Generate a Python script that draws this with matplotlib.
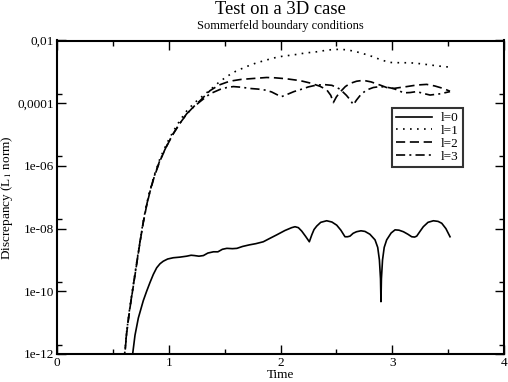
import numpy as np
import matplotlib
matplotlib.use("Agg")
import matplotlib.pyplot as plt
from matplotlib.ticker import FixedLocator, FixedFormatter

plt.rcParams['font.family'] = ['Liberation Serif', 'DejaVu Serif']
plt.rcParams['mathtext.fontset'] = 'stix'

# l=0 (solid): time and log10(discrepancy)
t0 = [0.65, 0.677, 0.698, 0.728, 0.772, 0.802, 0.832, 0.862, 0.892, 0.922, 0.951, 0.99, 1.04, 1.10,
      1.16, 1.20, 1.23, 1.27, 1.31, 1.35, 1.40, 1.44, 1.48, 1.52, 1.57, 1.61, 1.66, 1.72, 1.78, 1.846,
      1.90, 1.966, 2.04, 2.10, 2.13, 2.16, 2.19, 2.225, 2.258, 2.28, 2.30, 2.324, 2.36, 2.413, 2.46,
      2.503, 2.54, 2.577, 2.60, 2.622, 2.65, 2.68, 2.72, 2.756, 2.80, 2.846, 2.87, 2.885, 2.895, 2.899,
      2.903, 2.913, 2.928, 2.95, 2.99, 3.025, 3.06, 3.1, 3.14, 3.174, 3.2, 3.219, 3.25, 3.278, 3.32,
      3.368, 3.41, 3.443, 3.48, 3.517]
l0 = [-12.6, -12.0, -11.4, -10.85, -10.3, -10.0, -9.72, -9.46, -9.25, -9.12, -9.04, -8.97, -8.93, -8.91,
      -8.88, -8.85, -8.86, -8.88, -8.86, -8.78, -8.74, -8.74, -8.66, -8.63, -8.64, -8.63, -8.57, -8.52, -8.48, -8.42,
      -8.32, -8.2, -8.06, -7.97, -7.94, -7.97, -8.08, -8.25, -8.42, -8.2, -8.03, -7.92, -7.8, -7.75, -7.79,
      -7.89, -8.05, -8.26, -8.26, -8.24, -8.15, -8.10, -8.07, -8.09, -8.18, -8.36, -8.6, -9.0, -9.6, -10.33,
      -9.6, -9.0, -8.6, -8.36, -8.14, -8.04, -8.05, -8.10, -8.18, -8.26, -8.27, -8.24, -8.08, -7.94, -7.8,
      -7.75, -7.77, -7.83, -8.0, -8.26]

# l=1 (dotted)
t1 = [0.6, 0.623, 0.65, 0.68, 0.71, 0.74, 0.77, 0.80, 0.83, 0.87, 0.92, 0.98, 1.04, 1.10, 1.16, 1.22,
      1.30, 1.369, 1.44, 1.518, 1.60, 1.697, 1.78, 1.876, 1.95, 2.02, 2.115, 2.22, 2.324, 2.43, 2.53,
      2.60, 2.68, 2.75, 2.83, 2.90, 2.98, 3.07, 3.159, 3.25, 3.338, 3.43, 3.517]
l1 = [-12.2, -11.3, -10.55, -9.85, -9.15, -8.45, -7.8, -7.25, -6.8, -6.3, -5.78, -5.3, -4.9, -4.55, -4.25, -4.02,
      -3.78, -3.58, -3.36, -3.15, -2.98, -2.83, -2.72, -2.62, -2.55, -2.5, -2.46, -2.4, -2.36, -2.3, -2.28,
      -2.3, -2.36, -2.43, -2.52, -2.62, -2.7, -2.71, -2.71, -2.74, -2.78, -2.82, -2.85]

# l=2 (dashed)
t2 = [0.6, 0.623, 0.65, 0.68, 0.71, 0.74, 0.77, 0.80, 0.83, 0.87, 0.92, 0.98, 1.04, 1.10, 1.16, 1.22,
      1.28, 1.369, 1.45, 1.52, 1.578, 1.65, 1.727, 1.80, 1.876, 1.95, 2.05, 2.175, 2.27, 2.353, 2.413,
      2.45, 2.473, 2.50, 2.532, 2.58, 2.622, 2.68, 2.74, 2.81, 2.89, 2.95, 3.01, 3.07, 3.13, 3.22, 3.308,
      3.38, 3.457, 3.517]
l2 = [-12.3, -11.35, -10.6, -9.9, -9.2, -8.5, -7.85, -7.3, -6.85, -6.35, -5.85, -5.38, -4.98, -4.64, -4.35, -4.12,
      -3.92, -3.6, -3.42, -3.33, -3.28, -3.24, -3.22, -3.2, -3.18, -3.19, -3.22, -3.28, -3.36, -3.46, -3.57,
      -3.75, -3.98, -3.8, -3.65, -3.47, -3.37, -3.3, -3.27, -3.32, -3.42, -3.5, -3.53, -3.5, -3.47, -3.42, -3.40,
      -3.45, -3.53, -3.62]

# l=3 (dash-dot)
t3 = [0.6, 0.623, 0.65, 0.68, 0.71, 0.74, 0.77, 0.80, 0.83, 0.87, 0.92, 0.98, 1.04, 1.10, 1.16, 1.22,
      1.28, 1.369, 1.459, 1.52, 1.578, 1.65, 1.727, 1.80, 1.86, 1.92, 1.97, 2.01, 2.06, 2.12, 2.175,
      2.25, 2.324, 2.40, 2.46, 2.532, 2.59, 2.625, 2.652, 2.68, 2.72, 2.77, 2.83, 2.89, 2.95, 3.01, 3.06,
      3.1, 3.16, 3.219, 3.28, 3.338, 3.43, 3.517]
l3 = [-12.25, -11.32, -10.58, -9.88, -9.18, -8.48, -7.83, -7.28, -6.83, -6.33, -5.83, -5.37, -4.97, -4.64, -4.34, -4.13,
      -3.95, -3.7, -3.56, -3.5, -3.47, -3.49, -3.53, -3.55, -3.58, -3.64, -3.73, -3.79, -3.72, -3.63, -3.57,
      -3.48, -3.42, -3.41, -3.43, -3.55, -3.75, -3.9, -4.05, -3.9, -3.72, -3.58, -3.5, -3.47, -3.49, -3.53, -3.6,
      -3.67, -3.66, -3.63, -3.69, -3.74, -3.7, -3.63]

labels = ['l=0', 'l=1', 'l=2', 'l=3']
ytick_vals = [1e-12, 1e-10, 1e-8, 1e-6, 1e-4, 1e-2]
ytick_labels = ['1e-12', '1e-10', '1e-08', '1e-06', '0,0001', '0,01']
xtick_vals = [0, 1, 2, 3, 4]

fig = plt.figure(figsize=(5.08, 3.82), dpi=100)
ax = fig.add_axes([57/508, 1-354/382, (504-57)/508, (354-40.5)/382])

styles = ['-', (0, (1, 3.2)), (0, (5.5, 2.8)), (0, (5.5, 2.5, 1.2, 2.5))]
for t, l, lab, ls in zip([t0, t1, t2, t3], [l0, l1, l2, l3], labels, styles):
    ax.plot(t, 10.0 ** np.array(l), color='black', linestyle=ls, lw=1.2, label=lab)

ax.set_yscale('log')
ax.set_ylim(1e-12, 1e-2)
ax.set_xlim(0, 4)
ax.yaxis.set_major_locator(FixedLocator(ytick_vals))
ax.yaxis.set_major_formatter(FixedFormatter(ytick_labels))
ax.yaxis.set_minor_locator(FixedLocator([2 * v for v in ytick_vals[:-1]]))
ax.yaxis.set_minor_formatter(FixedFormatter([]))
ax.set_xticks(xtick_vals)
ax.set_xticks(np.arange(0.5, 4, 1.0), minor=True)
ax.tick_params(which='both', direction='in', top=True, right=True, labelsize=9.5, width=1.0, pad=2)
ax.tick_params(which='major', length=6.5)
ax.tick_params(which='minor', length=3.5)
for s in ax.spines.values():
    s.set_linewidth(1.5)

ax.set_xlabel('Time', fontsize=9.5, labelpad=0)
ax.set_ylabel('Discrepancy (L$_1$ norm)', fontsize=9.5, labelpad=2)

fig.text(0.5 * (57 + 504) / 508, 1 - 9/382, 'Test on a 3D case', ha='center', va='center', fontsize=13.4)
fig.text(0.5 * (57 + 504) / 508, 1 - 26/382, 'Sommerfeld boundary conditions', ha='center', va='center', fontsize=8.9)

leg = ax.legend(loc='upper left', bbox_to_anchor=((392-57)/447, 1-(108-40.5)/313.5),
                fontsize=9.5, frameon=True, fancybox=False, edgecolor='black',
                handlelength=2.7, handletextpad=0.7, borderpad=0.3, labelspacing=0.05,
                borderaxespad=0)
leg.get_frame().set_linewidth(1.5)

fig.savefig('out.png', dpi=100)
